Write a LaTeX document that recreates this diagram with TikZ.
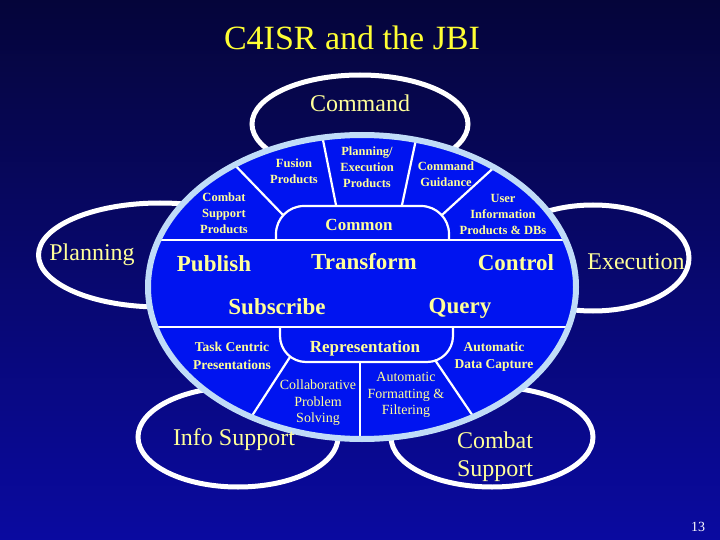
\documentclass[tikz,border=0pt]{standalone}
\usepackage{fontspec}
\setmainfont{Liberation Serif}
\usetikzlibrary{shapes.geometric}
\definecolor{navytop}{HTML}{05053A}
\definecolor{navybot}{HTML}{0A0AA0}
\definecolor{hubblue}{HTML}{0014F0}
\definecolor{ringblue}{HTML}{C0DCF8}
\definecolor{titleyel}{HTML}{FFFF33}
\definecolor{labelyel}{HTML}{FFFF99}
\tikzset{
  petal/.style={draw=white, line width=5pt, ellipse, inner sep=0pt},
  petaltext/.style={text=labelyel, font=\fontsize{24}{28}\selectfont, align=center},
  verb/.style={text=labelyel, font=\bfseries\fontsize{23}{26}\selectfont},
  tab/.style={text=labelyel, font=\bfseries\fontsize{17}{20}\selectfont},
  small/.style={text=labelyel, font=\bfseries\fontsize{12.5}{16}\selectfont, align=center},
  smallish/.style={text=labelyel, font=\bfseries\fontsize{13.5}{17.5}\selectfont, align=center},
  plain/.style={text=labelyel, font=\fontsize{14}{16.5}\selectfont, align=center},
  divider/.style={draw=white, line width=2.2pt}
}

\begin{document}
\begin{tikzpicture}[x=1pt, y=-1pt]
      \shade[top color=navytop, bottom color=navybot] (0,0) rectangle (720,540);
      \useasboundingbox (0,0) rectangle (720,540);
      % outer ellipses
      \node[petal, minimum width=216pt, minimum height=98pt] (command) at (360,124) {};
      \node[petal, minimum width=243pt, minimum height=104pt] (planning) at (160,255) {};
      \node[petal, minimum width=192pt, minimum height=106pt] (execution) at (593,258) {};
      \node[petal, minimum width=200pt, minimum height=100pt] (infosup) at (238,437) {};
      \node[petal, minimum width=202pt, minimum height=100pt] (combatsup) at (492,437) {};
      % the hub
      \fill[hubblue] (362,287) ellipse [x radius=214, y radius=152];
      \begin{scope}
        \clip (362,287) ellipse [x radius=213, y radius=151];
        \draw[divider] (140,240) -- (590,240);
        \draw[divider] (140,327) -- (590,327);
        \draw[divider, rounded corners=28pt] (276,240) -- (276,206) -- (449,206) -- (449,240);
        \draw[divider, rounded corners=26pt] (280,327) -- (280,362) -- (453,362) -- (453,327);
        \draw[divider] (283,215) -- (230,160);
        \draw[divider] (336,205) -- (321,130);
        \draw[divider] (402,205) -- (418,130);
        \draw[divider] (442,215) -- (500,162);
        \draw[divider] (290,357) -- (248,422);
        \draw[divider] (360,362) -- (360,445);
        \draw[divider] (435,360) -- (477,422);
      \end{scope}
      \draw[ringblue, line width=6pt] (362,287) ellipse [x radius=214, y radius=152];
      % texts
      \node[text=titleyel, font=\fontsize{34}{40}\selectfont] (title) at (352,38) {C4ISR and the JBI};
      \node[petaltext] (lcommand) at (360,103) {Command};
      \node[petaltext] (lplanning) at (92,255) {Planning};
      \node[petaltext] (lexecution) at (636,262) {Execution};
      \node[petaltext] (linfosup) at (234,440) {Info Support};
      \node[petaltext, align=left] (lcombatsup) at (495,457) {Combat\\Support};
      \node[verb] (publish) at (214,264) {Publish};
      \node[verb] (transform) at (364,262) {Transform};
      \node[verb] (control) at (516,263) {Control};
      \node[verb] (subscribe) at (277,307) {Subscribe};
      \node[verb] (query) at (460,308) {Query};
      \node[tab] (common) at (359,225) {Common};
      \node[tab] (represent) at (365,348) {Representation};
      \node[small] (fusion) at (294,171) {Fusion\\Products};
      \node[small] (planexec) at (367,167) {Planning/\\Execution\\Products};
      \node[small] (cmdguid) at (446,174) {Command\\Guidance};
      \node[small] (combprod) at (224,213) {Combat\\Support\\Products};
      \node[small] (userinfo) at (503,214) {User\\Information\\Products \& DBs};
      \node[smallish] (taskcent) at (232,356) {Task Centric\\Presentations};
      \node[smallish] (autodata) at (494,357) {Automatic\\Data Capture};
      \node[plain] (collab) at (318,403) {Collaborative\\Problem\\Solving};
      \node[plain] (autoform) at (406,395) {Automatic\\Formatting \&\\Filtering};
      \node[text=white, font=\fontsize{14}{16}\selectfont] (pageno) at (698,527) {13};
    \end{tikzpicture}
\end{document}
